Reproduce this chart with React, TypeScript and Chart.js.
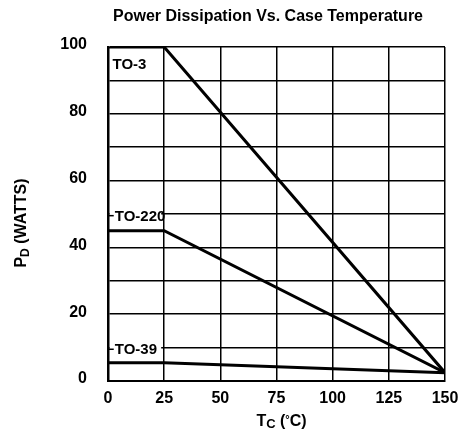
import { useEffect, useRef } from "react";
import { Chart, registerables } from "chart.js";

Chart.register(...registerables);

const FONT = '"Liberation Sans", Arial, Helvetica, sans-serif';

const chartTitle = "Power Dissipation Vs. Case Temperature";
const xTickValues = [0, 25, 50, 75, 100, 125, 150];
const yTickLabels = [0, 20, 40, 60, 80, 100];

const seriesNames = ["TO-3", "TO-220", "TO-39"];
const to3X = [0, 25, 150];
const to3Y = [100, 100, 2.5];
const to220X = [0, 25, 150];
const to220Y = [45, 45, 2.5];
const to39X = [0, 25, 150];
const to39Y = [5.5, 5.5, 2.5];

// label anchor (data coords: left x, centre y)
const labelAnchorX = [2, 3, 3];
const labelAnchorY = [95, 49.5, 9.5];
const labelHasLeader = [false, true, true];

type Seg = { t: string; size: number; dy: number };

function drawRich(ctx: CanvasRenderingContext2D, segs: Seg[], cx: number, cy: number) {
  let total = 0;
  for (const s of segs) {
    ctx.font = `bold ${s.size}px ${FONT}`;
    total += ctx.measureText(s.t).width;
  }
  let x = cx - total / 2;
  ctx.textAlign = "left";
  ctx.textBaseline = "alphabetic";
  for (const s of segs) {
    ctx.font = `bold ${s.size}px ${FONT}`;
    ctx.fillText(s.t, x, cy + s.dy);
    x += ctx.measureText(s.t).width;
  }
}

const annotations = {
  id: "annotations",
  afterDatasetsDraw(chart: any) {
    const { ctx, scales } = chart;
    const xs = scales.x;
    const ys = scales.y;
    ctx.save();
    ctx.fillStyle = "#000";
    ctx.strokeStyle = "#000";
    ctx.font = `bold 15px ${FONT}`;
    ctx.textBaseline = "middle";
    ctx.textAlign = "left";
    for (let i = 0; i < seriesNames.length; i++) {
      const px = xs.getPixelForValue(labelAnchorX[i]);
      const py = ys.getPixelForValue(labelAnchorY[i]);
      if (labelHasLeader[i]) {
        ctx.fillStyle = "#fff";
        ctx.fillRect(xs.left + 2, py - 9, xs.getPixelForValue(25) - xs.left - 5, 18);
        ctx.fillStyle = "#000";
        ctx.lineWidth = 1.5;
        ctx.beginPath();
        ctx.moveTo(xs.left, py);
        ctx.lineTo(px - 1, py);
        ctx.stroke();
      }
      ctx.fillText(seriesNames[i], px, py + 1);
    }
    ctx.restore();
  },
  afterDraw(chart: any) {
    const { ctx, scales } = chart;
    const xs = scales.x;
    const ys = scales.y;
    ctx.save();
    ctx.fillStyle = "#000";
    ctx.font = `bold 16px ${FONT}`;
    ctx.textAlign = "center";
    ctx.textBaseline = "alphabetic";
    ctx.fillText(chartTitle, 268, 21);

    // x axis title: T_C (°C)
    const xc = (xs.left + xs.right) / 2 + 5;
    drawRich(
      ctx,
      [
        { t: "T", size: 16, dy: 0 },
        { t: "C", size: 13, dy: 2 },
        { t: " (", size: 16, dy: 0 },
        { t: "°", size: 11, dy: -3 },
        { t: "C)", size: 16, dy: 0 },
      ],
      xc,
      426
    );

    // y axis title: P_D (WATTS)
    ctx.save();
    ctx.translate(26, (ys.top + ys.bottom) / 2 + 9);
    ctx.rotate(-Math.PI / 2);
    drawRich(
      ctx,
      [
        { t: "P", size: 16, dy: 0 },
        { t: "D", size: 12, dy: 3 },
        { t: " (WATTS)", size: 16, dy: 0 },
      ],
      0,
      0
    );
    ctx.restore();
    ctx.restore();
  },
};

export default function App() {
  const ref = useRef<HTMLCanvasElement>(null);
  useEffect(() => {
    const canvas = ref.current!;
    const mk = (xa: number[], ya: number[]) => xa.map((x, i) => ({ x, y: ya[i] }));
    const datasets = [
      { label: seriesNames[0], data: mk(to3X, to3Y) },
      { label: seriesNames[1], data: mk(to220X, to220Y) },
      { label: seriesNames[2], data: mk(to39X, to39Y) },
    ].map((d) => ({
      ...d,
      borderColor: "#000",
      backgroundColor: "#000",
      borderWidth: 3,
      pointRadius: 0,
      tension: 0,
      fill: false,
    }));
    const tickFont = { family: FONT, size: 16, weight: "bold" as const };
    const chart = new Chart(canvas, {
      type: "line",
      data: { datasets },
      options: {
        responsive: false,
        animation: false,
        layout: { padding: { top: 47, right: 22, left: 0, bottom: 0 } },
        plugins: {
          legend: { display: false },
          tooltip: { enabled: false },
          title: { display: false },
        },
        scales: {
          x: {
            type: "linear",
            min: 0,
            max: 150,
            afterBuildTicks(s: any) {
              s.ticks = xTickValues.map((v) => ({ value: v }));
            },
            ticks: { color: "#000", font: tickFont, padding: 8, autoSkip: false, maxRotation: 0 },
            grid: { color: "#000", lineWidth: 1.5, drawTicks: false },
            border: { color: "#000", width: 2 },
            afterFit(s: any) {
              s.height = 51;
              s.paddingLeft = 0;
              s.paddingRight = 0;
            },
          },
          y: {
            type: "linear",
            min: 0,
            max: 100,
            ticks: {
              stepSize: 10,
              color: "#000",
              font: tickFont,
              padding: 21,
              autoSkip: false,
              labelOffset: -2,
              callback: (v: any) => (yTickLabels.includes(Number(v)) ? String(v) : ""),
            },
            grid: { color: "#000", lineWidth: 1.5, drawTicks: false },
            border: { color: "#000", width: 2.5 },
            afterFit(s: any) {
              s.width = 108;
              s.paddingTop = 0;
              s.paddingBottom = 0;
            },
          },
        },
      },
      plugins: [annotations],
    } as any);
    return () => chart.destroy();
  }, []);
  return (
    <div style={{ position: "absolute", left: 0, top: 0, width: 467, height: 432, background: "#fff" }}>
      <canvas ref={ref} width={467} height={432} style={{ display: "block" }} />
    </div>
  );
}
